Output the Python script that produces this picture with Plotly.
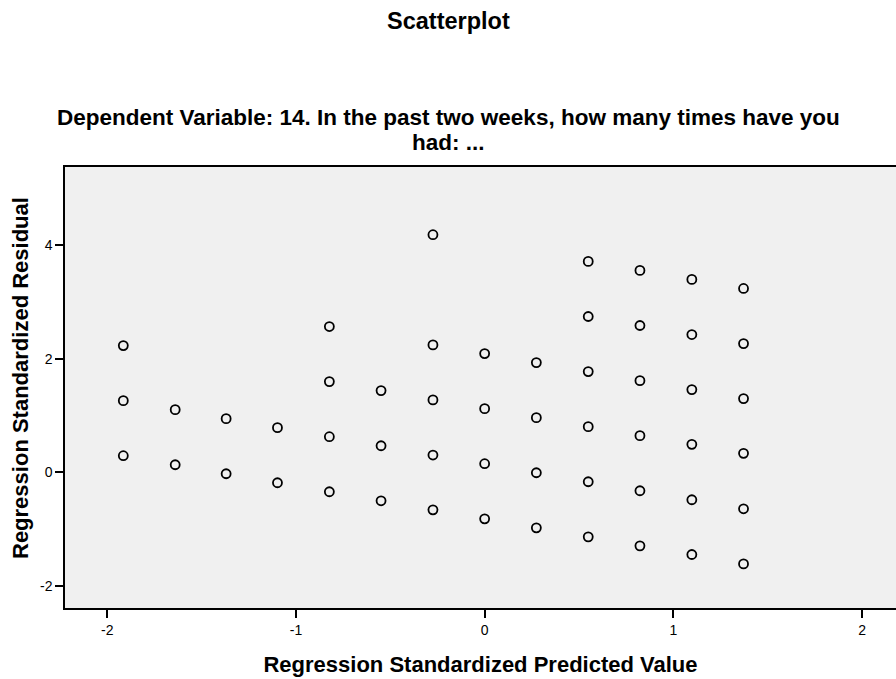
import plotly.graph_objects as go

# Regression standardized predicted values (one column of points each)
predicted = [-1.915, -1.64, -1.37, -1.098, -0.823, -0.549, -0.274, 0.0,
             0.274, 0.549, 0.823, 1.098, 1.372]

# Regression standardized residuals for each predicted value
residuals = [
    [2.234, 1.263, 0.293],
    [1.105, 0.134],
    [0.946, -0.025],
    [0.787, -0.183],
    [2.569, 1.599, 0.628, -0.342],
    [1.44, 0.469, -0.501],
    [4.187, 2.246, 1.276, 0.305, -0.66],
    [2.093, 1.122, 0.152, -0.819],
    [1.934, 0.963, -0.007, -0.978],
    [3.716, 2.746, 1.775, 0.805, -0.166, -1.136],
    [3.558, 2.587, 1.616, 0.646, -0.324, -1.295],
    [3.399, 2.428, 1.458, 0.494, -0.483, -1.447],
    [3.24, 2.269, 1.299, 0.335, -0.642, -1.613],
]

x_ticks = [-2, -1, 0, 1, 2]
y_ticks = [-2, 0, 2, 4]

title_text = "Scatterplot"
subtitle_lines = ["Dependent Variable: 14. In the past two weeks, how many times have you",
                  "had: ..."]
x_title = "Regression Standardized Predicted Value"
y_title = "Regression Standardized Residual"

xs, ys = [], []
for p, rs in zip(predicted, residuals):
    for r in rs:
        xs.append(p)
        ys.append(r)

FONT = "Liberation Sans, Arial, sans-serif"
W, H = 896, 679
M_L, M_R, M_T, M_B = 65, 0, 167, 71
plot_h = H - M_T - M_B
plot_w = W - M_L - M_R


def paper_y(py):
    return (H - M_B - py) / plot_h


def paper_x(px):
    return (px - M_L) / plot_w


fig = go.Figure()
fig.add_trace(go.Scatter(
    x=xs, y=ys, mode="markers",
    marker=dict(symbol="circle-open", size=9, color="black",
                line=dict(width=1.8, color="black")),
    showlegend=False, hoverinfo="x+y",
))

annotations = [
    dict(text="<b>%s</b>" % title_text, xref="paper", yref="paper",
         x=paper_x(448), y=paper_y(21), xanchor="center", yanchor="middle",
         showarrow=False, font=dict(size=23.5, family=FONT, color="black")),
    dict(text="<b>%s</b>" % y_title, xref="paper", yref="paper",
         x=paper_x(20), y=paper_y(378), xanchor="center", yanchor="middle",
         textangle=-90, showarrow=False,
         font=dict(size=22, family=FONT, color="black")),
]
for i, line in enumerate(subtitle_lines):
    annotations.append(dict(
        text="<b>%s</b>" % line, xref="paper", yref="paper",
        x=paper_x(448), y=paper_y(117 + 25 * i),
        xanchor="center", yanchor="middle", showarrow=False,
        font=dict(size=22.5, family=FONT, color="black")))

fig.update_layout(
    width=W, height=H,
    margin=dict(l=M_L, r=M_R, t=M_T, b=M_B),
    paper_bgcolor="white",
    plot_bgcolor="#f0f0f0",
    font=dict(family=FONT, color="black"),
    annotations=annotations,
    xaxis=dict(
        range=[-2.224, 2.18], tickvals=x_ticks, ticktext=[str(v) for v in x_ticks],
        showgrid=False, zeroline=False, showline=True, linecolor="black",
        linewidth=1.5, mirror=True, ticks="outside", ticklen=8, tickwidth=1.5,
        tickcolor="black", tickfont=dict(size=14, color="black"),
        title=dict(text="<b>%s</b>" % x_title,
                   font=dict(size=22, family=FONT, color="black"), standoff=20),
    ),
    yaxis=dict(
        range=[-2.39, 5.38], tickvals=y_ticks, ticktext=[str(v) for v in y_ticks],
        showgrid=False, zeroline=False, showline=True, linecolor="black",
        linewidth=1.5, mirror=False, ticks="outside", ticklen=8, tickwidth=1.5,
        tickcolor="black", tickfont=dict(size=14, color="black"),
    ),
)

fig.write_html("out.html", config={"displayModeBar": False},
               post_script="document.body.style.margin='0';document.body.style.overflow='hidden';")
